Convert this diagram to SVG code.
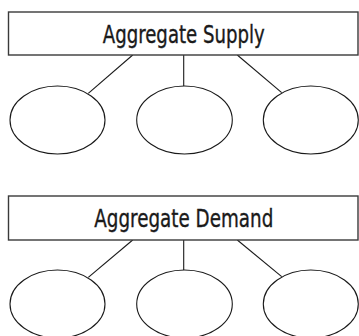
<svg xmlns="http://www.w3.org/2000/svg" width="359" height="336" viewBox="0 0 359 336">
<style>
.box{fill:#fff;stroke:#3a3a3a;stroke-width:1.4}
.ell{fill:#fff;stroke:#1a1a1a;stroke-width:1.1}
.ln{stroke:#1a1a1a;stroke-width:1.1;fill:none}
.lbl{font-family:"Liberation Sans Narrow","DejaVu Sans Condensed","Liberation Sans",sans-serif;font-size:25px;fill:#1a1a1a;stroke:#1a1a1a;stroke-width:0.35;text-anchor:middle}
</style>
<rect width="359" height="336" fill="#fff"/>
<g id="connectors">
<line class="ln" x1="132.7" y1="55" x2="88.3" y2="93.3"/>
<line class="ln" x1="183.7" y1="55" x2="183.7" y2="86"/>
<line class="ln" x1="237.3" y1="55" x2="281.7" y2="92.7"/>
<line class="ln" x1="132.7" y1="240" x2="88.3" y2="277.3"/>
<line class="ln" x1="183.7" y1="240" x2="183.7" y2="270"/>
<line class="ln" x1="237.3" y1="240" x2="281.7" y2="276.7"/>
</g>
<g id="supply">
<rect class="box" x="8.5" y="12" width="349.5" height="43"/>
<text class="lbl" x="183.8" y="42.7" textLength="162" lengthAdjust="spacingAndGlyphs">Aggregate Supply</text>
</g>
<g id="s1"><ellipse class="ell" cx="57.5" cy="120" rx="47.5" ry="34"/></g>
<g id="s2"><ellipse class="ell" cx="184.5" cy="120" rx="47.8" ry="34"/></g>
<g id="s3"><ellipse class="ell" cx="310.8" cy="120" rx="47.5" ry="34"/></g>
<g id="demand">
<rect class="box" x="8.5" y="196" width="349.5" height="44"/>
<text class="lbl" x="183.8" y="226.7" textLength="179" lengthAdjust="spacingAndGlyphs">Aggregate Demand</text>
</g>
<g id="d1"><ellipse class="ell" cx="57.5" cy="304" rx="47.5" ry="34"/></g>
<g id="d2"><ellipse class="ell" cx="184.5" cy="304" rx="47.8" ry="34"/></g>
<g id="d3"><ellipse class="ell" cx="310.8" cy="304" rx="47.5" ry="34"/></g>
</svg>
